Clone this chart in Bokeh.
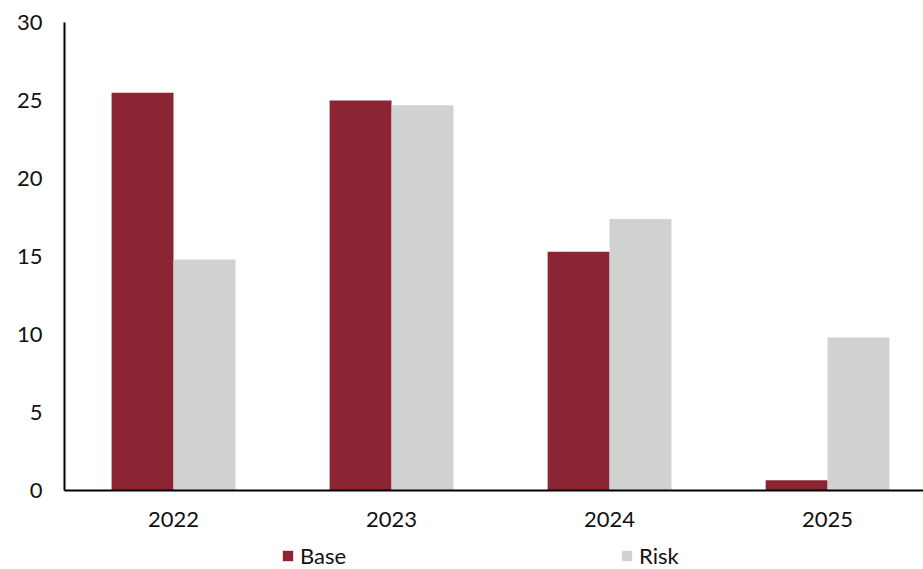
from bokeh.plotting import figure
from bokeh.layouts import column
from bokeh.models import Range1d, FixedTicker, ColumnDataSource, Legend, LegendItem
from bokeh.transform import dodge
from bokeh.embed import file_html
from bokeh.resources import INLINE

years = ["2022", "2023", "2024", "2025"]
base = [25.5, 25.0, 15.3, 0.65]
risk = [14.8, 24.7, 17.4, 9.8]
y_ticks = [0, 5, 10, 15, 20, 25, 30]
series_names = ["Base", "Risk"]

BASE_COLOR = "#8B2433"
RISK_COLOR = "#D0D1D1"
FONT = "Lato"

xc = [i + 0.5 for i in range(len(years))]
src = ColumnDataSource(dict(x=xc, base=base, risk=risk))

p = figure(width=923, height=540, frame_width=859, frame_height=468,
           output_backend="svg", toolbar_location=None,
           x_range=Range1d(0, 3.94), y_range=Range1d(0, 30),
           min_border_left=64, min_border_right=0, min_border_top=22,
           min_border_bottom=50)
p.outline_line_color = None
p.xgrid.visible = False
p.ygrid.visible = False

bw = 0.284
p.vbar(x=dodge("x", -bw / 2), top="base", width=bw, source=src,
       fill_color=BASE_COLOR, line_color=None)
p.vbar(x=dodge("x", bw / 2), top="risk", width=bw, source=src,
       fill_color=RISK_COLOR, line_color=None)

# axes
p.xaxis.ticker = FixedTicker(ticks=xc)
p.xaxis.major_label_overrides = {k: v for k, v in zip(xc, years)}
p.yaxis.ticker = FixedTicker(ticks=y_ticks)
for ax in (p.xaxis[0], p.yaxis[0]):
    ax.axis_line_color = "black"
    ax.axis_line_width = 2
    ax.major_tick_line_color = None
    ax.minor_tick_line_color = None
    ax.major_tick_out = 0
    ax.major_tick_in = 0
    ax.minor_tick_out = 0
    ax.major_label_text_font = FONT
    ax.major_label_text_font_size = "22px"
    ax.major_label_text_color = "#111111"
p.xaxis.major_label_standoff = 21
p.yaxis.major_label_standoff = 22

# legend strip below the chart
lf = figure(width=923, height=29, output_backend="svg", toolbar_location=None,
            x_axis_location=None, y_axis_location=None,
            x_range=Range1d(0, 3.94), y_range=Range1d(1000, 1001),
            min_border_left=0, min_border_right=0, min_border_top=0,
            min_border_bottom=0)
lf.outline_line_color = None
lf.xgrid.visible = False
lf.ygrid.visible = False
lr1 = lf.vbar(x="x", top="base", width=bw, source=src,
              fill_color=BASE_COLOR, line_color=None)
lr2 = lf.vbar(x="x", top="risk", width=bw, source=src,
              fill_color=RISK_COLOR, line_color=None)

legend = Legend(items=[LegendItem(label=series_names[0], renderers=[lr1]),
                       LegendItem(label=series_names[1], renderers=[lr2])],
                orientation="horizontal", spacing=0, label_width=320,
                glyph_width=13, glyph_height=13, label_standoff=6,
                padding=0, margin=0, border_line_color=None,
                background_fill_alpha=0,
                label_text_font=FONT, label_text_font_size="22px",
                label_text_color="#111111", location=(217, 0))
lf.add_layout(legend)

layout = column(p, lf, spacing=0)
open("out.html", "w").write(file_html(layout, INLINE))
